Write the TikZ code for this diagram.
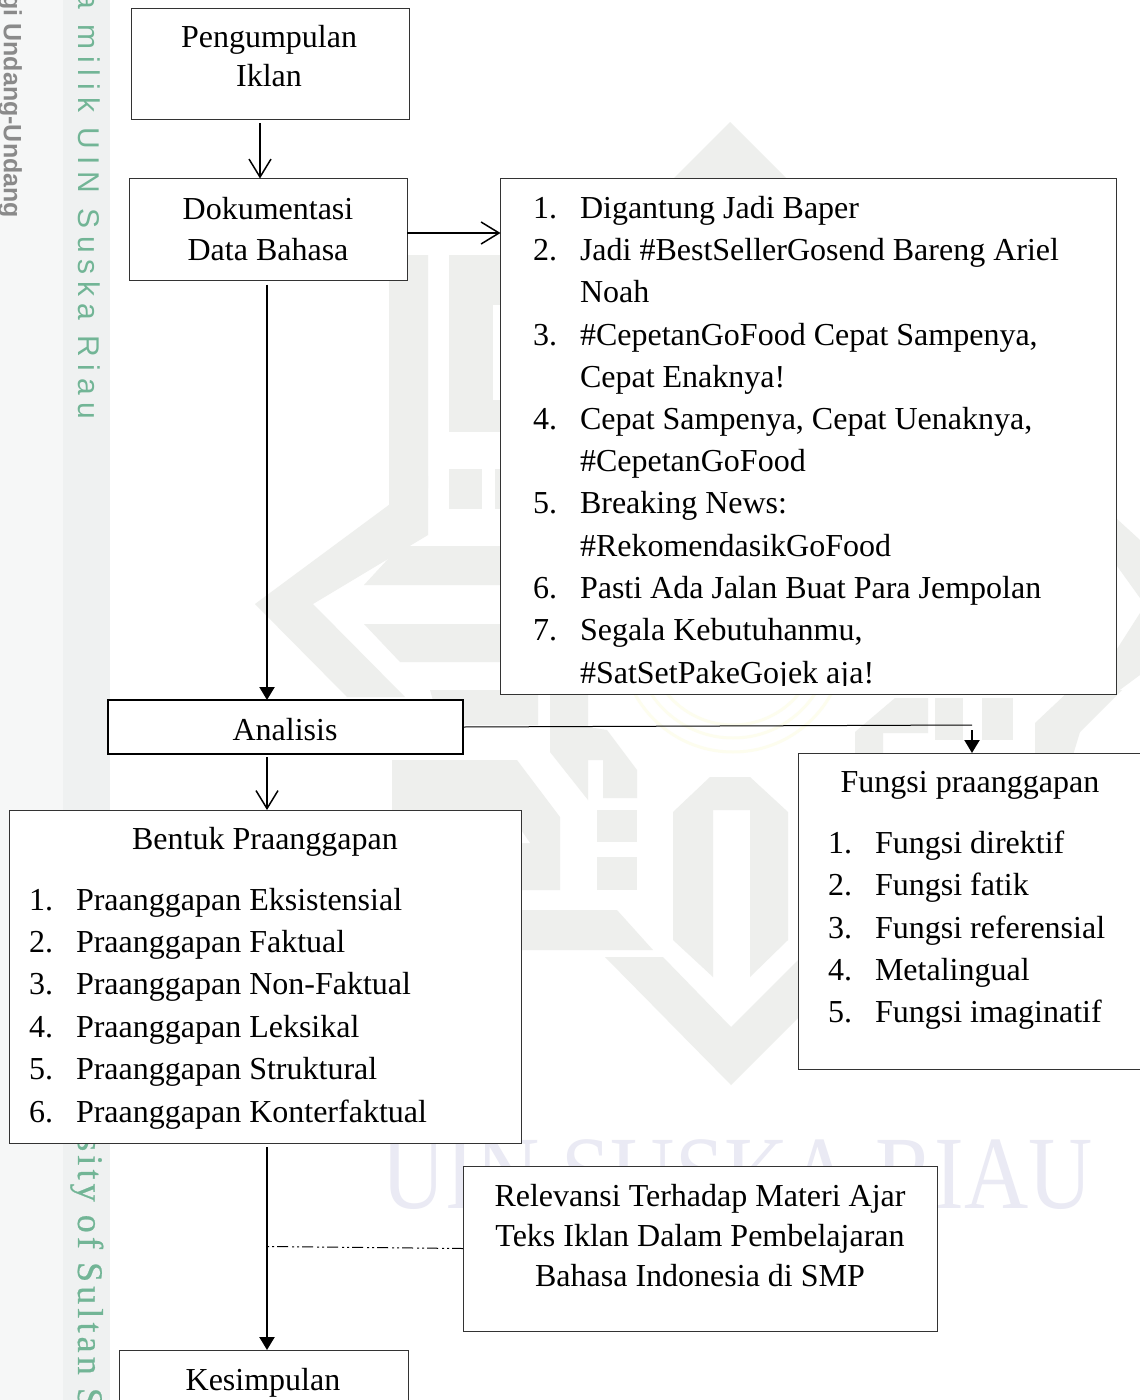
\documentclass[tikz,border=0pt]{standalone}
\usepackage{fontspec}
\setmainfont{Liberation Serif}
\newfontfamily\wmsans[LetterSpace=23.5]{Liberation Sans}
\newfontfamily\wmserif[LetterSpace=11.5,FakeBold=0.6]{Liberation Serif}
\newfontfamily\graysans{Liberation Sans}
\usetikzlibrary{arrows.meta}
\definecolor{wm}{HTML}{EEEFED}
\definecolor{wmtext}{HTML}{EAEAF4}
\definecolor{wmyellow}{HTML}{FDFDEE}
\definecolor{bandA}{HTML}{F6F7F7}
\definecolor{bandB}{HTML}{EFF1F1}
\definecolor{wmgreen}{HTML}{72B596}
\definecolor{wmgray}{HTML}{8A8A8A}
\definecolor{boxline}{HTML}{333333}
\tikzset{
  boxst/.style={draw=boxline,line width=1pt,fill=white,inner sep=0pt,outer sep=0pt},
  boxthick/.style={draw=black,line width=2pt,fill=white,inner sep=0pt,outer sep=0pt},
  lab/.style={inner sep=0pt,outer sep=0pt,anchor=base,font=\fontsize{32}{38}\selectfont,text=black},
  labw/.style={lab,anchor=base west},
  openarr/.style={draw=black,line width=1.5pt,-{Straight Barb[length=18pt,width=22pt,line width=1.5pt]}},
  solidarr/.style={draw=black,line width=2.2pt,-{Triangle[length=13pt,width=15pt]}},
  thinline/.style={draw=black,line width=1pt},
  dashdot/.style={draw=black,line width=1pt,dash pattern=on 11pt off 3pt on 2pt off 3pt on 2pt off 4pt},
  wmshape/.style={fill=wm,draw=none}
}
\begin{document}
\begin{tikzpicture}[x=1pt,y=-1pt]
\useasboundingbox (0,0) rectangle (1140,1400);
\clip (0,0) rectangle (1140,1400);
\fill[white] (0,0) rectangle (1140,1400);
% left band
\fill[bandA] (0,0) rectangle (63,1400);
\fill[bandB] (63,0) rectangle (110,1400);
\node[rotate=-90,anchor=base west,inner sep=0pt,text=wmgreen,font=\wmsans\fontsize{30}{30}\selectfont] (bandone) at (78,-8) {a milik UIN Suska Riau};
\node[rotate=-90,anchor=base west,inner sep=0pt,text=wmgreen,font=\wmserif\fontsize{36}{36}\selectfont] (bandtwo) at (78,1137) {sity of Sultan S};
\node[rotate=-90,anchor=base west,inner sep=0pt,text=wmgray,font=\graysans\bfseries\fontsize{25}{25}\selectfont] (bandthree) at (4,-21) {ngi Undang-Undang};
% watermark shapes
\fill[wmshape] (730,122) -- (786,178) -- (674,178) -- cycle;
\fill[wmshape] (389,255) -- (428,255) -- (428,488) -- (389,526) -- cycle;
\fill[wmshape] (449,255) rectangle (501,432);
\fill[white] (493,305) rectangle (501,400);
\fill[wmshape] (449,469) rectangle (482,509);
\fill[wmshape] (495,469) rectangle (501,509);
\fill[wmshape] (428,476) -- (428,535) -- (313,604) -- (405,697) -- (347,697) -- (255,604) -- cycle;
\fill[wmshape] (364,585) -- (400,546) -- (501,546) -- (501,585) -- cycle;
\fill[wmshape] (364,624) -- (501,624) -- (501,662) -- (400,662) -- cycle;
\fill[wmshape] (430,690) -- (538,690) -- (538,725) -- (440,725) -- cycle;
\fill[wmshape] (550,690) -- (588,690) -- (588,727) -- (607,730) -- (637,770) -- (637,798) -- (603,798) -- (603,760) -- (588,760) -- (588,800) -- (550,752) -- cycle;
\fill[wmshape] (392,760) -- (517,760) -- (560,817) -- (560,890) -- (392,890) -- cycle;
\fill[white] (521,830) -- (530,843) -- (521,843) -- cycle;
\fill[wmshape] (597,810) rectangle (637,842);
\fill[wmshape] (597,857) rectangle (637,890);
\fill[wmshape] (500,910) -- (617,910) -- (653,950) -- (500,950) -- cycle;
\fill[wmshape] (710,777) -- (750,777) -- (788,812) -- (788,940) -- (750,977) -- (750,810) -- (713,810) -- (713,977) -- (673,940) -- (673,812) -- cycle;
\fill[wmshape] (605,957) -- (663,957) -- (731,1027) -- (800,958) -- (800,1016) -- (731,1085) -- cycle;
\fill[wmshape] (855,755) -- (855,732) -- (895,698) -- (928,698) -- (928,733) -- (883,733) -- (883,755) -- cycle;
\fill[wmshape] (935,698) rectangle (963,740);
\fill[wmshape] (982,698) rectangle (1013,740);
\fill[wmshape] (1035,755) -- (1035,723) -- (1070,690) -- (1080,690) -- (1080,732) -- (1073,755) -- cycle;
\fill[wmshape] (1080,690) -- (1122,690) -- (1080,732) -- cycle;
\fill[wmshape] (1117,519) -- (1140,540) -- (1140,598) -- (1117,566) -- cycle;
\fill[wmshape] (1140,613) -- (1117,649) -- (1117,692) -- (1140,675) -- cycle;
\draw[wmyellow,line width=3pt] (733,640) circle (112);
\draw[wmyellow,line width=3pt] (733,640) circle (98);
\draw[wmyellow,line width=3pt] (733,640) circle (85);
\node[inner sep=0pt,anchor=base,text=wmtext,xscale=0.855,font=\fontsize{104}{104}\selectfont] (wmword) at (737,1208) {UIN SUSKA RIAU};
% boxes
\node[boxst,minimum width=278pt,minimum height=111pt] (peng) at (270,63.5) {};
\node[boxst,minimum width=278pt,minimum height=102pt] (doku) at (268,229.5) {};
\node[boxst,minimum width=616pt,minimum height=516pt] (list) at (808.5,436) {};
\node[boxthick,minimum width=355pt,minimum height=54pt] (anal) at (285.5,727) {};
\node[boxst,minimum width=512pt,minimum height=333pt] (bent) at (265,976.5) {};
\node[boxst,minimum width=362pt,minimum height=316pt] (fung) at (979,911) {};
\node[boxst,minimum width=474pt,minimum height=165pt] (rele) at (700,1248.5) {};
\node[boxst,minimum width=289pt,minimum height=90pt] (kesi) at (263.5,1395) {};
\coordinate (doktip) at (list.west |- doku.east);
\coordinate (fbend) at (fung.north |- anal.east);
\coordinate (dashend) at (bent.south |- rele.west);
% connectors
\draw[openarr] ([xshift=-10pt,yshift=-4pt]peng.south) -- ([xshift=-8pt]doku.north);
\draw[openarr] ([yshift=-3.5pt]doku.east) -- ([yshift=-3.5pt]doktip);
\draw[solidarr] ([xshift=-1pt,yshift=-4pt]doku.south) -- ([xshift=-18.5pt]anal.north);
\draw[openarr] ([xshift=-18.5pt,yshift=-3pt]anal.south) -- ([xshift=2pt]bent.north);
\draw[thinline] (anal.east) -- ([xshift=-7pt,yshift=2pt]fbend);
\draw[solidarr] ([xshift=-7pt,yshift=23pt]fung.north) -- ([xshift=-7pt]fung.north);
\draw[solidarr] ([xshift=2pt,yshift=-4pt]bent.south) -- ([xshift=3.5pt]kesi.north);
\draw[dashdot] (rele.west) -- ([xshift=2pt,yshift=2pt]dashend);
% labels
\node[lab] (t1) at (269,47) {Pengumpulan};
\node[lab] (t2) at (269,86) {Iklan};
\node[lab] (t3) at (268,219) {Dokumentasi};
\node[lab] (t4) at (268,260) {Data Bahasa};
\node[labw] (n1) at (533,218.5) {1.};
\node[labw] (l1) at (580,218.5) {Digantung Jadi Baper};
\node[labw] (n2) at (533,260.5) {2.};
\node[labw] (l2) at (580,260.5) {Jadi \#BestSellerGosend Bareng Ariel};
\node[labw] (l2b) at (580,302.5) {Noah};
\node[labw] (n3) at (533,345.5) {3.};
\node[labw] (l3) at (580,345.5) {\#CepetanGoFood Cepat Sampenya,};
\node[labw] (l3b) at (580,387.5) {Cepat Enaknya!};
\node[labw] (n4) at (533,429.5) {4.};
\node[labw] (l4) at (580,429.5) {Cepat Sampenya, Cepat Uenaknya,};
\node[labw] (l4b) at (580,471.5) {\#CepetanGoFood};
\node[labw] (n5) at (533,513.5) {5.};
\node[labw] (l5) at (580,513.5) {Breaking News:};
\node[labw] (l5b) at (580,556.5) {\#RekomendasikGoFood};
\node[labw] (n6) at (533,598.5) {6.};
\node[labw] (l6) at (580,598.5) {Pasti Ada Jalan Buat Para Jempolan};
\node[labw] (n7) at (533,640.5) {7.};
\node[labw] (l7) at (580,640.5) {Segala Kebutuhanmu,};
\begin{scope}
\clip (500,600) rectangle (1116,685);
\node[labw] (l7b) at (580,683.5) {\#SatSetPakeGojek aja!};
\end{scope}
\node[lab] (t5) at (285,740) {Analisis};
\node[lab] (t6) at (265,849) {Bentuk Praanggapan};
\node[labw] (b1n) at (29,910) {1.};
\node[labw] (b1) at (76,910) {Praanggapan Eksistensial};
\node[labw] (b2n) at (29,952) {2.};
\node[labw] (b2) at (76,952) {Praanggapan Faktual};
\node[labw] (b3n) at (29,994) {3.};
\node[labw] (b3) at (76,994) {Praanggapan Non-Faktual};
\node[labw] (b4n) at (29,1037) {4.};
\node[labw] (b4) at (76,1037) {Praanggapan Leksikal};
\node[labw] (b5n) at (29,1079) {5.};
\node[labw] (b5) at (76,1079) {Praanggapan Struktural};
\node[labw] (b6n) at (29,1122) {6.};
\node[labw] (b6) at (76,1122) {Praanggapan Konterfaktual};
\node[lab] (t7) at (970,792) {Fungsi praanggapan};
\node[labw] (f1n) at (828,853) {1.};
\node[labw] (f1) at (875,853) {Fungsi direktif};
\node[labw] (f2n) at (828,895) {2.};
\node[labw] (f2) at (875,895) {Fungsi fatik};
\node[labw] (f3n) at (828,938) {3.};
\node[labw] (f3) at (875,938) {Fungsi referensial};
\node[labw] (f4n) at (828,980) {4.};
\node[labw] (f4) at (875,980) {Metalingual};
\node[labw] (f5n) at (828,1022) {5.};
\node[labw] (f5) at (875,1022) {Fungsi imaginatif};
\node[lab] (r1) at (700,1206) {Relevansi Terhadap Materi Ajar};
\node[lab] (r2) at (700,1246) {Teks Iklan Dalam Pembelajaran};
\node[lab] (r3) at (700,1286) {Bahasa Indonesia di SMP};
\node[lab] (t8) at (263,1390) {Kesimpulan};
\end{tikzpicture}
\end{document}
